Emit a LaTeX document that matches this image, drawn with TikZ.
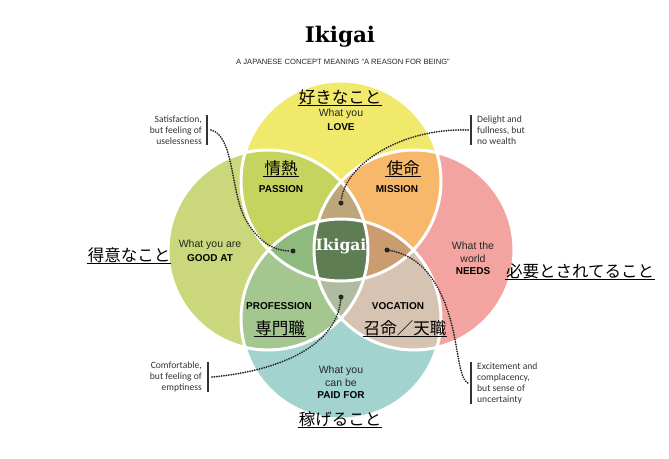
\documentclass[tikz,border=0pt]{standalone}
\usepackage{fontspec}
\setmainfont{Liberation Sans}
\newfontfamily\jpfont{Noto Sans CJK JP}
\newfontfamily\notefont{Carlito}
\newfontfamily\slabfont{DejaVu Serif}
\usetikzlibrary{positioning}

\definecolor{loveyellow}{HTML}{F0E96C}
\definecolor{goodgreen}{HTML}{CAD77B}
\definecolor{needspink}{HTML}{F3A3A0}
\definecolor{paidteal}{HTML}{A2D3CF}
\definecolor{passioncol}{HTML}{C4D45F}
\definecolor{missioncol}{HTML}{F8B86B}
\definecolor{professioncol}{HTML}{A4C790}
\definecolor{vocationcol}{HTML}{D7C3B1}
\definecolor{topmix}{HTML}{BCA67A}
\definecolor{leftmix}{HTML}{8FBA7D}
\definecolor{rightmix}{HTML}{CA9C70}
\definecolor{bottommix}{HTML}{AFBCA0}
\definecolor{ikigaicol}{HTML}{5F7D52}

% the four circles
\newcommand{\loveC}{(341,181) circle[radius=100pt]}
\newcommand{\goodC}{(268,250) circle[radius=100pt]}
\newcommand{\needsC}{(414,250) circle[radius=100pt]}
\newcommand{\paidC}{(341,319) circle[radius=100pt]}

\begin{document}
\begin{tikzpicture}[x=1pt, y=-1pt,
    jp/.style={font=\jpfont\fontsize{16.5}{18}\selectfont, inner sep=1pt,
      append after command={(\tikzlastnode.south west) edge[black, line width=0.9pt] (\tikzlastnode.south east)}},
    blurb/.style={font=\fontsize{10.5}{12.5}\selectfont, text=black!85, align=center, inner sep=0pt},
    caps/.style={font=\bfseries\fontsize{10}{12}\selectfont, inner sep=0pt},
    note/.style={font=\notefont\fontsize{9.6}{11}\selectfont, text=black!80, inner sep=0pt},
    notebar/.style={line width=1.3pt, black!80},
    dot/.style={circle, fill=black!85, inner sep=0pt, minimum size=5pt},
    link/.style={line width=2pt, dash pattern=on 0.01pt off 2.4pt, line cap=round, black!85},
    ring/.style={draw=white, line width=3pt}
  ]
    \useasboundingbox (0,0) rectangle (669,458);

    % Draw the circles
    \fill[loveyellow] \loveC;
    \fill[goodgreen] \goodC;
    \fill[needspink] \needsC;
    \fill[paidteal] \paidC;

    % Overlaps of two
    \begin{scope}
      \clip \loveC;
      \fill[passioncol] \goodC;
      \fill[missioncol] \needsC;
    \end{scope}
    \begin{scope}
      \clip \paidC;
      \fill[professioncol] \goodC;
      \fill[vocationcol] \needsC;
    \end{scope}

    % Overlaps of three
    \begin{scope}
      \clip \loveC; \clip \goodC;
      \fill[topmix] \needsC;
      \fill[leftmix] \paidC;
    \end{scope}
    \begin{scope}
      \clip \needsC; \clip \paidC;
      \fill[rightmix] \loveC;
      \fill[bottommix] \goodC;
    \end{scope}

    % Centre
    \begin{scope}
      \clip \loveC; \clip \goodC; \clip \needsC;
      \fill[ikigaicol] \paidC;
    \end{scope}

    \draw[ring] \loveC;
    \draw[ring] \goodC;
    \draw[ring] \needsC;
    \draw[ring] \paidC;

    % Title
    \node[font=\slabfont\bfseries\fontsize{21.5}{24}\selectfont] (title) at (340,37) {Ikigai};
    \node[font=\fontsize{7.6}{9}\selectfont, text=black!85] (subtitle) at (343,62) {A JAPANESE CONCEPT MEANING “A REASON FOR BEING”};
    \node[font=\slabfont\bfseries\fontsize{15.5}{18}\selectfont, text=white] (ikigai) at (341,246) {Ikigai};

    % Love
    \node[jp] (lovejp) at (340,97) {好きなこと};
    \node[blurb] (lovetxt) at (341,114) {What you};
    \node[caps] (love) at (341,127) {LOVE};

    % Good at
    \node[jp] (goodjp) at (129,255) {得意なこと};
    \node[blurb] (goodtxt) at (210,245) {What you are};
    \node[caps] (good) at (210,258) {GOOD AT};

    % Needs
    \node[jp] (needsjp) at (580,271) {必要とされてること};
    \node[blurb] (needstxt) at (473,252) {What the\\world};
    \node[caps] (needs) at (473,271) {NEEDS};

    % Paid for
    \node[jp] (paidjp) at (340,419) {稼げること};
    \node[blurb] (paidtxt) at (341,376) {What you\\can be};
    \node[caps] (paid) at (341,395) {PAID FOR};

    % Overlap labels
    \node[jp] (passionjp) at (281,168) {情熱};
    \node[caps] (passion) at (281,189) {PASSION};
    \node[jp] (missionjp) at (403,168) {使命};
    \node[caps] (mission) at (397,189) {MISSION};
    \node[caps] (profession) at (279,306) {PROFESSION};
    \node[jp] (professionjp) at (280,328) {専門職};
    \node[caps] (vocation) at (398,306) {VOCATION};
    \node[jp] (vocationjp) at (405,328) {召命／天職};

    % Notes with bars
    \node[note, anchor=east, align=right] (satnote) at (202,130) {Satisfaction,\\but feeling of\\uselessness};
    \draw[notebar] ([xshift=5pt]satnote.north east) -- ([xshift=5pt]satnote.south east);
    \coordinate (satend) at ([xshift=9pt]satnote.east);

    \node[note, anchor=west, align=left] (delnote) at (477,130) {Delight and\\fullness, but\\no wealth};
    \draw[notebar] ([xshift=-6pt]delnote.north west) -- ([xshift=-6pt]delnote.south west);
    \coordinate (delend) at ([xshift=-9pt]delnote.west);

    \node[note, anchor=east, align=right] (comnote) at (202,377) {Comfortable,\\but feeling of\\emptiness};
    \draw[notebar] ([xshift=6pt]comnote.north east) -- ([xshift=6pt]comnote.south east);
    \coordinate (comend) at ([xshift=10pt]comnote.east);

    \node[note, anchor=west, align=left] (excnote) at (477,383) {Excitement and\\complacency,\\but sense of\\uncertainty};
    \draw[notebar] ([xshift=-6pt]excnote.north west) -- ([xshift=-6pt]excnote.south west);
    \coordinate (excend) at ([xshift=-9pt]excnote.west);

    % Dots
    \node[dot] (leftdot) at (293,251) {};
    \node[dot] (topdot) at (341,203) {};
    \node[dot] (rightdot) at (387,250) {};
    \node[dot] (bottomdot) at (341,297) {};

    % Dotted links
    \draw[link] (satend) .. controls (235,136) and (230,195) .. (247,222)
                         .. controls (260,243) and (275,251) .. (leftdot);
    \draw[link] (delend) .. controls (400,128) and (345,165) .. (topdot);
    \draw[link] (comend) .. controls (270,372) and (336,350) .. (bottomdot);
    \draw[link] (rightdot) .. controls (435,258) and (450,310) .. (456,345)
                           .. controls (460,368) and (462,380) .. (excend);

  \end{tikzpicture}
\end{document}
